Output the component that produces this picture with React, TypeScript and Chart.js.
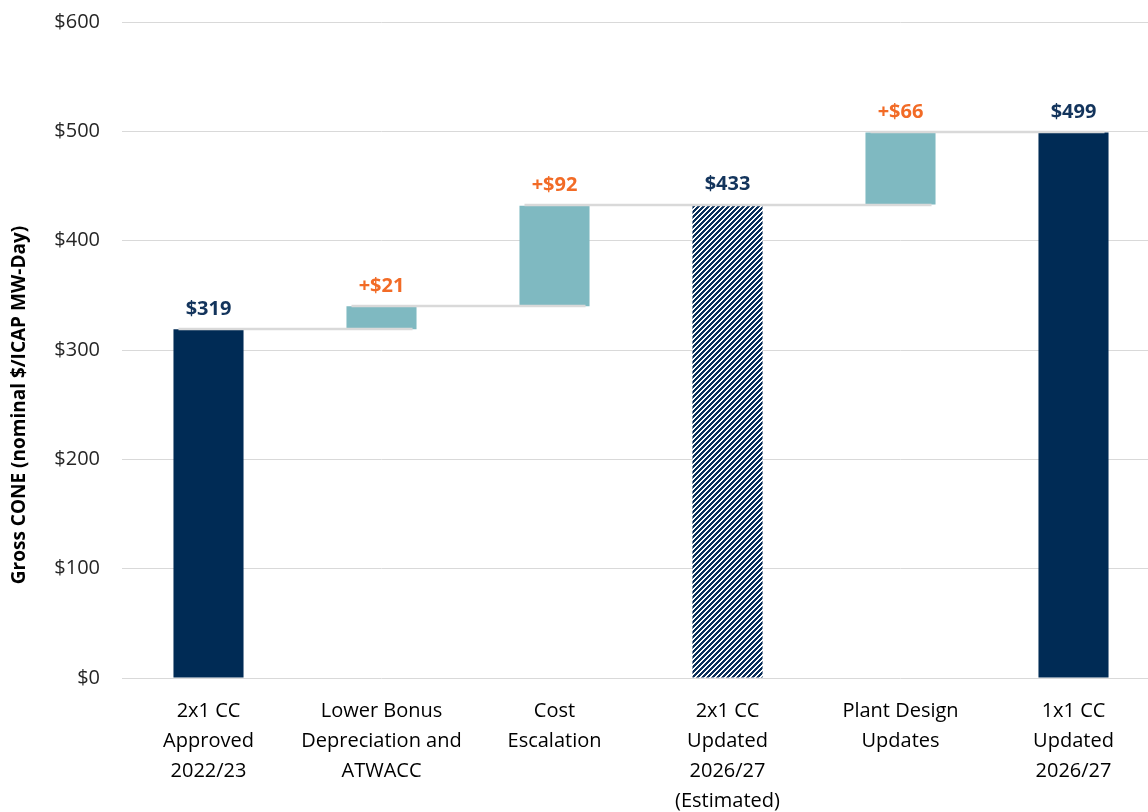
import React, { useEffect, useRef } from "react";
import { Chart, registerables } from "chart.js";

Chart.register(...registerables);

const categories: string[][] = [
  ["2x1 CC", "Approved", "2022/23"],
  ["Lower Bonus", "Depreciation and", "ATWACC"],
  ["Cost", "Escalation"],
  ["2x1 CC", "Updated", "2026/27", "(Estimated)"],
  ["Plant Design", "Updates"],
  ["1x1 CC", "Updated", "2026/27"],
];
const barStarts = [0, 319, 340, 0, 433, 0];
const barEnds = [319, 340, 432, 433, 499, 499];
const barLabels = ["$319", "+$21", "+$92", "$433", "+$66", "$499"];
const barKinds = ["total", "step", "step", "estimate", "step", "total"];
const connectorValues = [319, 340, 433, 499];
const connectorFrom = [0, 1, 2, 4];
const connectorTo = [1, 2, 4, 5];
const yTickValues = [0, 100, 200, 300, 400, 500, 600];
const yAxisTitle = "Gross CONE (nominal $/ICAP MW-Day)";

const NAVY = "#002B55";
const TEAL = "#7FB9C1";
const ORANGE = "#F26B26";
const LABEL_NAVY = "#13345C";
const GRID = "#D9D9D9";
const FONT = "'Open Sans', 'Noto Sans', sans-serif";
const SHIFT = 12;

function makeHatch(): CanvasPattern | string {
  const p = 5;
  const c = document.createElement("canvas");
  c.width = p;
  c.height = p;
  const g = c.getContext("2d");
  if (!g) return NAVY;
  const img = g.createImageData(p, p);
  for (let y = 0; y < p; y++) {
    for (let x = 0; x < p; x++) {
      const on = (x + y) % p < 3;
      const i = (y * p + x) * 4;
      if (on) {
        img.data[i] = 0x0a; img.data[i + 1] = 0x2f; img.data[i + 2] = 0x5a; img.data[i + 3] = 255;
      } else {
        img.data[i] = 255; img.data[i + 1] = 255; img.data[i + 2] = 255; img.data[i + 3] = 255;
      }
    }
  }
  g.putImageData(img, 0, 0);
  const ctx = document.createElement("canvas").getContext("2d");
  const pat = ctx ? ctx.createPattern(c, "repeat") : null;
  return pat || NAVY;
}

export default function App() {
  const ref = useRef<HTMLCanvasElement | null>(null);

  useEffect(() => {
    const canvas = ref.current;
    if (!canvas) return;
    const hatch = makeHatch();
    const colors = barKinds.map((k) => (k === "total" ? NAVY : k === "step" ? TEAL : hatch));

    const overlay = {
      id: "overlay",
      afterDatasetsDraw(chart: any) {
        const ctx = chart.ctx;
        const meta = chart.getDatasetMeta(0);
        const y = chart.scales.y;
        // connectors
        ctx.save();
        ctx.strokeStyle = GRID;
        ctx.lineWidth = 2.5;
        connectorValues.forEach((v, i) => {
          const a = meta.data[connectorFrom[i]];
          const b = meta.data[connectorTo[i]];
          const py = Math.round(y.getPixelForValue(v));
          ctx.beginPath();
          ctx.moveTo(a.x - a.width / 2 + 5, py);
          ctx.lineTo(b.x + b.width / 2 - 4, py);
          ctx.stroke();
        });
        ctx.restore();
        // labels
        ctx.save();
        ctx.textAlign = "center";
        ctx.textBaseline = "middle";
        ctx.font = `bold 20px ${FONT}`;
        meta.data.forEach((el: any, i: number) => {
          ctx.fillStyle = barKinds[i] === "step" ? ORANGE : LABEL_NAVY;
          ctx.fillText(barLabels[i], el.x, y.getPixelForValue(barEnds[i]) - 20);
        });
        ctx.restore();
        // axis title
        ctx.save();
        ctx.translate(20, 405 + SHIFT);
        ctx.rotate(-Math.PI / 2);
        ctx.textAlign = "center";
        ctx.textBaseline = "middle";
        ctx.font = `bold 19px ${FONT}`;
        ctx.fillStyle = "#000000";
        ctx.fillText(yAxisTitle, 0, 0);
        ctx.restore();
      },
    };

    const chart = new Chart(canvas, {
      type: "bar",
      data: {
        labels: categories,
        datasets: [
          {
            data: barStarts.map((s, i) => [s, barEnds[i]]) as any,
            backgroundColor: colors as any,
            borderWidth: 0,
            barPercentage: 0.405,
            categoryPercentage: 1,
          },
        ],
      },
      options: {
        animation: false,
        responsive: false,
        devicePixelRatio: 1,
        layout: { padding: { top: 0, right: 10, bottom: 0, left: 0 } },
        plugins: { legend: { display: false }, tooltip: { enabled: false } },
        scales: {
          x: {
            grid: { display: false, drawTicks: false, tickLength: 0 },
            border: { display: false },
            ticks: {
              color: "#000000",
              font: { family: FONT, size: 20, lineHeight: "30px" },
              padding: 18,
              maxRotation: 0,
              autoSkip: false,
            },
            afterFit(scale: any) {
              scale.height = 134;
            },
          },
          y: {
            min: 0,
            max: 600,
            afterBuildTicks(scale: any) {
              scale.ticks = yTickValues.map((v) => ({ value: v }));
            },
            grid: { color: GRID, lineWidth: 1, drawTicks: false, tickLength: 0 },
            border: { display: false },
            ticks: {
              color: "#262626",
              font: { family: FONT, size: 20 },
              padding: 22,
              callback: (v: any) => "$" + v,
            },
            afterFit(scale: any) {
              scale.width = 122;
            },
          },
        },
      },
      plugins: [overlay],
    });
    return () => chart.destroy();
  }, []);

  return (
    <div style={{ position: "absolute", left: 0, top: 0, width: 1148, height: 812, overflow: "hidden", background: "#fff" }}>
      <canvas
        ref={ref}
        width={1170}
        height={812 + SHIFT}
        style={{ display: "block", position: "absolute", left: 0, top: -SHIFT, width: 1170, height: 812 + SHIFT }}
      />
    </div>
  );
}
